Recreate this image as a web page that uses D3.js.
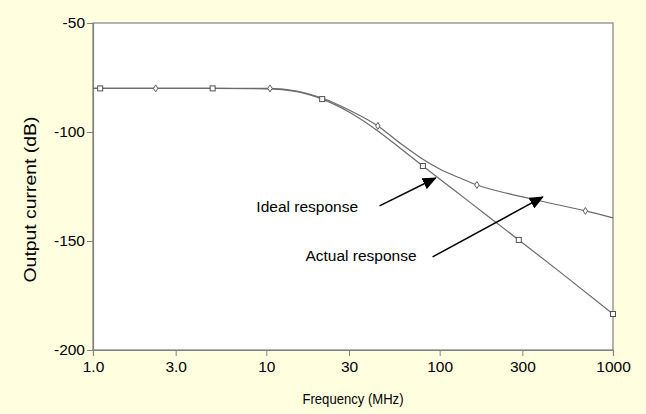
<!DOCTYPE html>
<html>
<head>
<meta charset="utf-8">
<script src="https://cdn.jsdelivr.net/npm/d3@7"></script>
<style>
  html, body { margin: 0; padding: 0; background: #FFFFE0; }
  svg { display: block; font-family: "Liberation Sans", Arial, sans-serif; }
</style>
</head>
<body>
<svg id="chart" width="646" height="414"></svg>
<script>
// Frequency axis (log) ticks and labels
const freqTicks = [1, 3, 10, 30, 100, 300, 1000];
const freqTickLabels = ["1.0", "3.0", "10", "30", "100", "300", "1000"];
// Output current axis ticks
const dbTicks = [-50, -100, -150, -200];

// Ideal response curve (MHz, dB)
const idealFreq = [1, 1.1, 2, 4.9, 10, 15, 21, 30, 44, 60, 80, 120, 200, 286, 500, 1000];
const idealDb   = [-80, -80, -80, -80, -80.2, -81.5, -84.9, -90.8, -99.5, -107.8, -115.6, -126.4, -140, -149.5, -164.5, -183.5];
const idealMarkerFreq = [1.1, 4.9, 21, 80, 286, 1000];
const idealMarkerDb   = [-80, -80, -84.9, -115.6, -149.5, -183.5];

// Actual response curve (MHz, dB)
const actualFreq = [1, 2.3, 5, 10.5, 15, 21, 30, 44, 60, 80, 100, 130, 164, 250, 400, 693, 1000];
const actualDb   = [-80, -80, -80, -80, -81.2, -84.4, -89.9, -97.2, -105.5, -112.5, -117, -121, -124.3, -128.3, -132, -136.2, -139.4];
const actualMarkerFreq = [2.3, 10.5, 44, 164, 693];
const actualMarkerDb   = [-80, -80, -97.2, -124.3, -136.2];

// Callout labels with their arrows (MHz, dB)
const calloutLabels   = ["Ideal response", "Actual response"];
const calloutTextFreq = [8.76, 16.8];
const calloutTextDb   = [-136.7, -159.2];
const arrowFromFreq   = [45, 91];
const arrowFromDb     = [-133.9, -157.3];
const arrowToFreq     = [95, 394];
const arrowToDb       = [-121.1, -129.8];

const svg = d3.select("#chart");
const plot = { left: 93, right: 613, top: 23, bottom: 350 };

const x = d3.scaleLog().domain([1, 1000]).range([plot.left, plot.right]);
const y = d3.scaleLinear().domain([-200, -50]).range([plot.bottom, plot.top]);

// plot area
svg.append("rect")
  .attr("x", plot.left).attr("y", plot.top)
  .attr("width", plot.right - plot.left).attr("height", plot.bottom - plot.top)
  .attr("fill", "#ffffff").attr("stroke", "#808080").attr("stroke-width", 1.2);

// y axis
const yAxis = d3.axisLeft(y).tickValues(dbTicks).tickSize(6).tickPadding(2).tickFormat(d => String(d));
const gy = svg.append("g").attr("transform", `translate(${plot.left},0)`).call(yAxis);
gy.select(".domain").attr("stroke", "#808080").attr("stroke-width", 1.2);
gy.selectAll(".tick line").attr("stroke", "#808080");
gy.selectAll(".tick text").attr("font-size", 15.5).attr("fill", "#000")
  .attr("font-family", "'Liberation Sans', Arial, sans-serif");

// x axis
const xAxis = d3.axisBottom(x).tickValues(freqTicks).tickSize(6).tickPadding(5)
  .tickFormat((d, i) => freqTickLabels[i]);
const gx = svg.append("g").attr("transform", `translate(0,${plot.bottom})`).call(xAxis);
gx.select(".domain").attr("stroke", "#808080").attr("stroke-width", 1.2);
gx.selectAll(".tick line").attr("stroke", "#808080");
gx.selectAll(".tick text").attr("font-size", 15.5).attr("fill", "#000")
  .attr("font-family", "'Liberation Sans', Arial, sans-serif");

// axis titles
svg.append("text")
  .attr("x", (plot.left + plot.right) / 2).attr("y", 404)
  .attr("text-anchor", "middle").attr("font-size", 15)
  .attr("textLength", 101).attr("lengthAdjust", "spacingAndGlyphs")
  .text("Frequency (MHz)");
svg.append("text")
  .attr("transform", `translate(36,${(plot.top + plot.bottom) / 2 + 13}) rotate(-90)`)
  .attr("text-anchor", "middle").attr("font-size", 17)
  .attr("textLength", 166).attr("lengthAdjust", "spacingAndGlyphs")
  .text("Output current (dB)");

// curves
const line = d3.line().x(d => x(d[0])).y(d => y(d[1])).curve(d3.curveMonotoneX);
const idealPts = idealFreq.map((f, i) => [f, idealDb[i]]);
const actualPts = actualFreq.map((f, i) => [f, actualDb[i]]);

svg.append("path").datum(idealPts).attr("d", line)
  .attr("fill", "none").attr("stroke", "#6a6a6a").attr("stroke-width", 1.2);
svg.append("path").datum(actualPts).attr("d", line)
  .attr("fill", "none").attr("stroke", "#6a6a6a").attr("stroke-width", 1.2);

// markers
svg.append("g").selectAll("rect")
  .data(idealMarkerFreq.map((f, i) => [f, idealMarkerDb[i]]))
  .join("rect")
  .attr("x", d => x(d[0]) - 2.5).attr("y", d => y(d[1]) - 2.5)
  .attr("width", 5).attr("height", 5)
  .attr("fill", "#ffffff").attr("stroke", "#505050").attr("stroke-width", 1);

const diamond = "M0,-3.5 L2.2,0 L0,3.5 L-2.2,0 Z";
svg.append("g").selectAll("path")
  .data(actualMarkerFreq.map((f, i) => [f, actualMarkerDb[i]]))
  .join("path")
  .attr("transform", d => `translate(${x(d[0])},${y(d[1])})`)
  .attr("d", diamond)
  .attr("fill", "#ffffff").attr("stroke", "#606060").attr("stroke-width", 1);

// callouts
svg.append("defs").append("marker")
  .attr("id", "arrowhead")
  .attr("markerUnits", "userSpaceOnUse")
  .attr("viewBox", "0 -6 14 12")
  .attr("refX", 13).attr("refY", 0)
  .attr("markerWidth", 14).attr("markerHeight", 12)
  .attr("orient", "auto")
  .append("path").attr("d", "M0,-6 L14,0 L0,6 Z").attr("fill", "#000");

calloutLabels.forEach((label, i) => {
  svg.append("text")
    .attr("x", x(calloutTextFreq[i])).attr("y", y(calloutTextDb[i]))
    .attr("font-size", 15.5).attr("fill", "#000")
    .text(label);
  svg.append("line")
    .attr("x1", x(arrowFromFreq[i])).attr("y1", y(arrowFromDb[i]))
    .attr("x2", x(arrowToFreq[i])).attr("y2", y(arrowToDb[i]))
    .attr("stroke", "#000").attr("stroke-width", 1.5)
    .attr("marker-end", "url(#arrowhead)");
});
</script>
</body>
</html>
